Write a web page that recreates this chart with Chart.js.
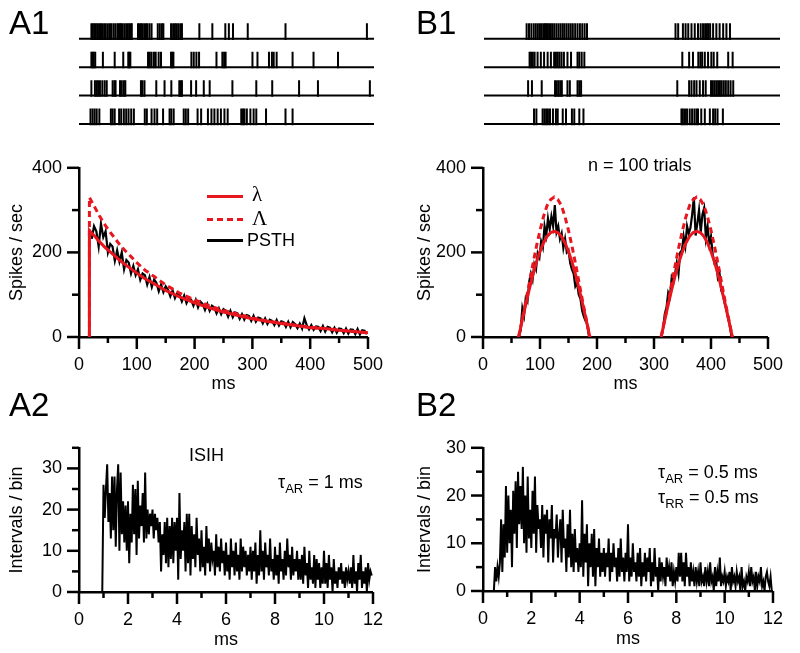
<!DOCTYPE html>
<html>
<head>
<meta charset="utf-8">
<script src="https://cdn.jsdelivr.net/npm/chart.js@4.4.0/dist/chart.umd.min.js"></script>
<style>
  body { margin: 0; background: #fff; width: 800px; height: 653px; position: relative; overflow: hidden;
         font-family: 'Liberation Sans', Arial, sans-serif; }
  canvas { position: absolute; }
  .t { position: absolute; color: #000; font-size: 18px; line-height: 1; white-space: nowrap; }
  .panel { font-size: 33px; }
  .g { font-family: 'Liberation Serif', serif; font-size: 21px; }
  .sub { font-size: 13px; position: relative; top: 5px; }
  .leg { position: absolute; width: 36px; height: 3px; }
</style>
</head>
<body>
<canvas id="rasterA" width="400" height="140" style="left:0;top:0"></canvas>
<canvas id="rasterB" width="400" height="140" style="left:400px;top:0"></canvas>
<canvas id="chartA1" width="400" height="255" style="left:0;top:140px"></canvas>
<canvas id="chartB1" width="400" height="255" style="left:400px;top:140px"></canvas>
<canvas id="chartA2" width="400" height="231" style="left:0;top:420px"></canvas>
<canvas id="chartB2" width="400" height="230" style="left:400px;top:420px"></canvas>

<div class="t panel" style="left:9px;top:6px">A1</div>
<div class="t panel" style="left:416px;top:6px">B1</div>
<div class="t panel" style="left:9px;top:388px">A2</div>
<div class="t panel" style="left:416px;top:388px">B2</div>

<div class="leg" style="left:207px;top:195px;background:#e8161e"></div>
<div class="leg" style="left:207px;top:218px;background:repeating-linear-gradient(to right,#e8161e 0 6px,transparent 6px 10px)"></div>
<div class="leg" style="left:207px;top:239px;background:#000"></div>
<div class="t g" style="left:252px;top:184px">&lambda;</div>
<div class="t g" style="left:252px;top:208px">&Lambda;</div>
<div class="t" style="left:247px;top:231px">PSTH</div>

<div class="t" style="left:588px;top:156px">n = 100 trials</div>
<div class="t" style="left:189px;top:446px">ISIH</div>
<div class="t" style="left:278px;top:473px">&tau;<span class="sub">AR</span> = 1 ms</div>
<div class="t" style="left:658px;top:463px">&tau;<span class="sub">AR</span> = 0.5 ms</div>
<div class="t" style="left:658px;top:488px">&tau;<span class="sub">RR</span> = 0.5 ms</div>

<script>
// ---- raster spike times (ms) ----
const rasterA1 = [
  [21,23.5,26,28.5,31,34,36.5,39,42.5,45.5,49,52.5,55,58.5,61.5,65,67,69.5,71.5,74,77,80,82.5,85,88,89.5,100,102.5,105,107.5,110.5,113.5,116,119.5,123,133.5,137,140.5,143,156,159.5,162.5,165,168,171.5,174.5,204,226,248,254,261,286,350,488],
  [21,23,25,27.5,40.5,60.5,75,83.5,85,87,117,120,123,127,130,135,139,156,158,160,190.5,194.5,199,203.5,233,243,246,248.5,294,302.5,322,327,330,335,362,397.5,439],
  [21,27,30,32.5,35.5,39.5,43.5,47,57,60,62,69.5,72.5,76,78.5,105,107.5,111,131,145,156.5,170,172.5,174.5,190,198.5,211.5,221.5,260,300.5,327.5,373,405,493],
  [19.5,23,26.5,30,34.5,54,57,60.5,68,71.5,76,80,84,88.5,93,111.5,115,123,128,132.5,142.5,153.5,156.5,160.5,177.5,181,185,201,207,218.5,224.5,229.5,235,240.5,246.5,252,275,278,280.5,284.5,290.5,296,300.5,317,350,362]
];
const rasterB1 = [
  [72,76,80,84,87.5,91,94.5,97.5,100.5,103,105,107.5,110,113,116,119,122.5,126,129.5,133,136,139.5,143,146.5,150,154,158,162,166,170,174,323.5,328,336,340.5,345,350.5,356,361.5,366,370,373.5,376.5,379,382,387,392.5,398,404,409.5,415.5],
  [77,79.5,82.5,85.5,90.5,96,101.5,107.5,113,118.5,121.5,124.5,127.5,131,135,141,147,158,161,165,169.5,335,346.5,353,362,365.5,368.5,373,378.5,384,388,394,412.5,420],
  [74.5,81,97.5,120,123,126,129,131.5,141,145,158,161,164,326.5,346.5,350.5,355,359,364.5,370,374.5,383.5,386.5,389.5,392.5,395.5,398.5,401.5,405,408.5,412.5,416.5,421],
  [84.5,88.5,99,102,105,108,111.5,116.5,121.5,124.5,133,138.5,148.5,152.5,161,168,333.5,336,339.5,343,347.5,351.5,355.5,359,361.5,367,373,381.5,387,390.5,394.5,403.5]
];
const rasterRows = [3.2, 2.2, 1.2, 0.2];

// ---- A1: decaying rate ----
const lamA1T = [18,18,22,26,30,35,40,45,50,60,70,80,90,100,115,130,150,175,200,225,250,275,300,325,350,375,400,425,450,475,500];
const lamA1  = [0,252,246,240,234,226,219,212,206,194,182,171,161,151,137,126,110,94,81,69,59,51,43,37,32,27,22,20,16,13,10];
const LamA1  = [0,330,320,310,300,287,276,265,255,237,219,204,190,176,157,143,123,103,88,74,63,54,45,38,33,28,23,20,16,13,10];
const psthA1Start = 22, psthA1Bin = 4;
const psthA1 = [
  232,262,250,214,268,236,250,200,220,214,
  180,205,178,200,160,182,176,150,168,146,
  160,135,150,146,124,142,118,136,128,108,
  124,106,120,112,96,110,92,104,99,84,
  98,80,92,88,74,88,70,84,78,64,
  78,62,74,70,56,68,54,66,62,48,
  62,47,58,56,43,54,41,52,50,38,
  50,36,46,44,32,44,31,41,38,28,
  40,27,37,35,24,36,23,35,30,21,
  32,20,44,28,18,28,17,25,24,14,
  26,13,24,22,11,22,10,20,19,9,
  20,8,18,17,7,19,6,16,15,7];

// ---- B1: two bursts ----
const lamB1T = [62.5,68.75,75,81.25,87.5,93.75,100,106.25,112.5,118.75,125,131.25,137.5,143.75,150,156.25,162.5,168.75,175,181.25,187.5,
                312.5,318.75,325,331.25,337.5,343.75,350,356.25,362.5,368.75,375,381.25,387.5,393.75,400,406.25,412.5,418.75,425,431.25,437.5];
const lamB1 = [0,39,77,113,147,177,202,223,238,247,250,247,238,223,202,177,147,113,77,39,0,
               0,39,77,113,147,177,202,223,238,247,250,247,238,223,202,177,147,113,77,39,0];
const LamB1 = [0,41,83,127,172,214,252,285,311,325,331,325,311,285,252,214,172,127,83,41,0,
               0,41,83,127,172,214,252,285,311,325,331,325,311,285,252,214,172,127,83,41,0];
const psthB1Bin = 3;
const psthB1aStart = 63;
const psthB1a = [0,15,68,50,92,84,130,150,135,172,160,198,188,226,212,262,240,280,255,285,262,312,248,262,232,245,210,232,200,205,175,160,150,120,128,100,90,62,48,38,30,0];
const psthB1bStart = 313;
const psthB1b = [0,20,55,70,105,95,140,128,150,175,150,200,205,238,215,262,245,258,290,330,240,268,300,248,290,305,235,262,220,238,195,175,180,140,150,110,100,80,65,45,28,0];

// ---- ISI histograms (bins of 0.05 ms) ----
const isiBin = 0.05;
const isiA2 = [
  0,0,0,0,0,0,0,0,0,0,0,0,0,0,0,0,0,0,0,0,
  26,18,25,31,17,24,13,28,15,28,11,25,31,10,29,14,22,12,21,10,
  22,7,19,12,26,14,25,9,27,13,21,16,24,12,29,13,20,14,19,16,
  20,13,19,15,18,12,17,5,14,9,17,7,18,6,16,8,18,7,17,10,
  18,3,24,8,15,10,17,5,19,7,19,4,16,8,14,6,18,9,13,5,
  15,6,11,4,16,7,13,5,12,8,10,4,14,6,11,5,13,7,10,4,
  12,5,9,3,13,6,10,4,12,5,9,3,13,5,11,6,10,4,9,5,
  11,3,10,5,12,2,9,4,15,5,10,3,12,6,9,4,13,5,8,3,
  11,4,9,2,12,5,8,3,10,4,13,6,9,3,11,4,8,5,10,3,
  8,3,9,2,11,4,7,1,10,3,6,2,9,1,8,3,7,1,6,2,
  10,2,7,1,9,3,6,0,8,2,5,1,6,3,7,2,5,1,6,3,
  5,2,6,1,9,2,5,0,7,3,9,1,5,2,6,0,7,3,5,4];
const isiB2 = [
  0,0,0,0,0,0,0,0,0,0,5,2,5,3,6,15,4,14,7,22,
  8,20,10,17,5,21,12,23,9,25,14,22,13,26,10,20,8,24,11,17,
  9,21,12,24,8,18,13,15,9,18,7,16,12,17,6,15,11,18,6,13,
  11,16,7,12,15,6,17,9,11,4,14,7,17,5,12,4,13,6,9,4,
  10,5,19,3,12,6,14,1,10,5,12,3,13,1,9,5,11,3,8,4,
  9,3,8,5,11,2,8,4,10,5,7,2,9,3,11,4,7,2,8,4,
  14,2,7,3,10,4,6,2,8,3,9,1,6,3,8,2,7,4,9,1,
  6,2,9,3,5,0,7,2,6,3,5,1,7,3,5,2,6,1,4,2,
  5,2,8,3,8,2,6,1,8,3,5,1,6,2,4,1,5,2,4,1,
  6,2,3,1,5,2,4,1,6,2,3,0,5,1,4,2,7,1,3,2,
  4,1,3,2,4,0,5,2,3,1,4,2,3,0,5,1,2,0,3,2,
  4,1,5,2,3,0,4,1,3,2,5,1,2,0,3,4,2,1,3,0];

// ---- axis ticks ----
const psthXMajor = [0,100,200,300,400,500], psthXMinor = [50,150,250,350,450];
const psthYMajor = [0,200,400], psthYMinor = [100,300];
const isiXMajor = [0,2,4,6,8,10,12], isiXMinor = [1,3,5,7,9,11];
const isiYMajor = [0,10,20,30];
const isiA2YMinor = [5,15,25,35], isiB2YMinor = [5,15,25];

const RED = '#e8161e';
Chart.defaults.font.family = "'Liberation Sans', Arial, sans-serif";
Chart.defaults.font.size = 18;
Chart.defaults.color = '#000';
Chart.defaults.animation = false;
Chart.defaults.events = [];

const tickMarks = {
  id: 'tickMarks',
  afterDraw(chart, args, o) {
    if (!o.xMajor) return;
    const ctx = chart.ctx, a = chart.chartArea;
    const xs = chart.scales.x, ys = chart.scales.y;
    ctx.save();
    ctx.strokeStyle = '#000';
    ctx.lineWidth = 2.5;
    const xt = (vals, len) => vals.forEach(v => {
      const p = xs.getPixelForValue(v);
      ctx.beginPath(); ctx.moveTo(p, a.bottom); ctx.lineTo(p, a.bottom + len); ctx.stroke();
    });
    const yt = (vals, len) => vals.forEach(v => {
      const p = ys.getPixelForValue(v);
      ctx.beginPath(); ctx.moveTo(a.left, p); ctx.lineTo(a.left - len, p); ctx.stroke();
    });
    xt(o.xMajor, 12); xt(o.xMinor, 6);
    yt(o.yMajor, 12); yt(o.yMinor, 7);
    ctx.restore();
  }
};

const pts = (xs, ys) => xs.map((x, i) => ({x, y: ys[i]}));
const bins = (start, bin, ys) => ys.map((y, i) => ({x: start + i * bin, y}));

function rasterChart(id, rows, padLeft, padRight) {
  const datasets = [];
  rows.forEach((spikes, r) => {
    datasets.push({
      data: spikes.map(t => ({x: t, y: rasterRows[r] + 0.25})),
      pointStyle: 'line', rotation: 90, radius: 8.3, borderWidth: 2,
      borderColor: '#000', backgroundColor: '#000'
    });
    datasets.push({
      data: [{x: 0, y: rasterRows[r]}, {x: 500, y: rasterRows[r]}],
      showLine: true, pointRadius: 0, borderWidth: 2, borderColor: '#000'
    });
  });
  new Chart(document.getElementById(id), {
    type: 'scatter',
    data: {datasets},
    options: {
      responsive: false,
      layout: {padding: {left: padLeft, right: padRight, top: 0, bottom: 0}},
      plugins: {legend: {display: false}, tooltip: {enabled: false}},
      scales: {
        x: {type: 'linear', display: false, min: 0, max: 500},
        y: {display: false, min: 0, max: 4.2}
      }
    }
  });
}

function axisScales(o) {
  return {
    x: {
      type: 'linear', min: o.xMin, max: o.xMax,
      afterBuildTicks: s => { s.ticks = o.xMajor.map(v => ({value: v})); },
      afterFit: s => { s.height = o.xH; },
      grid: {display: false, drawTicks: false},
      border: {display: true, color: '#000', width: 2.5},
      ticks: {padding: 17, maxRotation: 0, font: {size: 18}},
      title: {display: true, text: 'ms', font: {size: 18}, padding: {top: 0, bottom: 0}}
    },
    y: {
      min: 0, max: o.yMax,
      afterBuildTicks: s => { s.ticks = o.yMajor.map(v => ({value: v})); },
      afterFit: s => { s.width = o.yW; },
      grid: {display: false, drawTicks: false},
      border: {display: true, color: '#000', width: 2.5},
      ticks: {padding: 17, font: {size: 18}},
      title: {display: true, text: o.yTitle, font: {size: 18}, padding: {top: o.titlePad, bottom: 0}}
    }
  };
}

function lineChart(id, datasets, o) {
  new Chart(document.getElementById(id), {
    type: 'line',
    data: {datasets},
    options: {
      responsive: false,
      spanGaps: false,
      elements: {point: {radius: 0}, line: {tension: 0}},
      layout: {padding: {left: 0, right: o.padR, top: o.padT, bottom: 0}},
      plugins: {legend: {display: false}, tooltip: {enabled: false},
        tickMarks: {xMajor: o.xMajor, xMinor: o.xMinor, yMajor: o.yMajor, yMinor: o.yMinor}},
      scales: axisScales(o)
    },
    plugins: [tickMarks]
  });
}

rasterChart('rasterA', rasterA1, 79, 26);
rasterChart('rasterB', rasterB1, 84, 20);

lineChart('chartA1', [
  {data: pts(lamA1T, lamA1), borderColor: RED, borderWidth: 3},
  {data: pts(lamA1T, LamA1), borderColor: RED, borderWidth: 3, borderDash: [6, 4]},
  {data: bins(psthA1Start, psthA1Bin, psthA1), borderColor: '#000', borderWidth: 2.2}
], {xMin: 0, xMax: 500, yMax: 400, xMajor: psthXMajor, xMinor: psthXMinor, yMajor: psthYMajor, yMinor: psthYMinor,
    xH: 58, yW: 79, padR: 26, padT: 15, titlePad: 6, yTitle: 'Spikes / sec'});

const bGap = {x: 250, y: null};
lineChart('chartB1', [
  {data: pts(lamB1T, lamB1).slice(0, 21).concat([bGap], pts(lamB1T, lamB1).slice(21)), borderColor: RED, borderWidth: 3},
  {data: pts(lamB1T, LamB1).slice(0, 21).concat([bGap], pts(lamB1T, LamB1).slice(21)), borderColor: RED, borderWidth: 3, borderDash: [6, 4]},
  {data: bins(psthB1aStart, psthB1Bin, psthB1a).concat([bGap], bins(psthB1bStart, psthB1Bin, psthB1b)), borderColor: '#000', borderWidth: 2.2}
], {xMin: 0, xMax: 500, yMax: 400, xMajor: psthXMajor, xMinor: psthXMinor, yMajor: psthYMajor, yMinor: psthYMinor,
    xH: 58, yW: 83, padR: 20, padT: 15, titlePad: 14, yTitle: 'Spikes / sec'});

lineChart('chartA2', [
  {data: bins(0, isiBin, isiA2), borderColor: '#000', borderWidth: 2}
], {xMin: 0, xMax: 12, yMax: 35, xMajor: isiXMajor, xMinor: isiXMinor, yMajor: isiYMajor, yMinor: isiA2YMinor,
    xH: 59, yW: 79, padR: 26, padT: 14, titlePad: 6, yTitle: 'Intervals / bin'});

lineChart('chartB2', [
  {data: bins(0, isiBin, isiB2), borderColor: '#000', borderWidth: 2}
], {xMin: 0, xMax: 12, yMax: 30, xMajor: isiXMajor, xMinor: isiXMinor, yMajor: isiYMajor, yMinor: isiB2YMinor,
    xH: 59, yW: 83, padR: 20, padT: 15, titlePad: 14, yTitle: 'Intervals / bin'});
</script>
</body>
</html>
